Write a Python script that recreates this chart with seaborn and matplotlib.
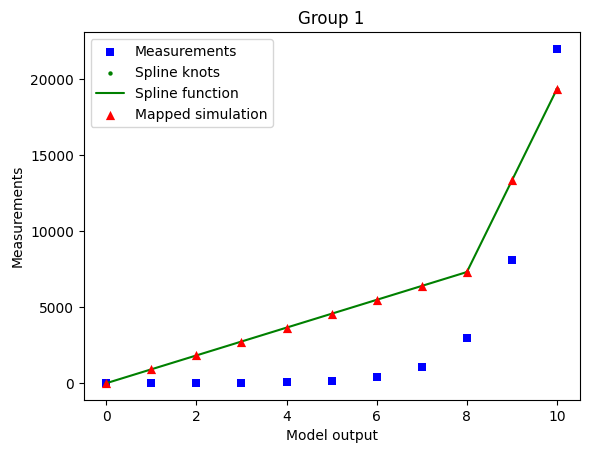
import numpy as np
import pandas as pd
import matplotlib
matplotlib.use("Agg")
import matplotlib.pyplot as plt
import seaborn as sns

sns.set_style("ticks", {"axes.edgecolor": "black", "text.color": "black",
                        "axes.labelcolor": "black", "xtick.color": "black",
                        "ytick.color": "black"})
plt.rcParams['font.family'] = ['DejaVu Sans']

# data
model_output = [0, 1, 2, 3, 4, 5, 6, 7, 8, 9, 10]
measurements = [1, 3, 7, 20, 55, 150, 400, 1100, 3000, 8100, 22000]
mapped_sim = [0, 915, 1830, 2745, 3660, 4575, 5490, 6405, 7320, 13350, 19380]
knots_x = [0, 8, 10]
knots_y = [0, 7320, 19380]

fig, ax = plt.subplots(figsize=(5.89, 4.55), dpi=100)
fig.subplots_adjust(left=0.142, right=0.984, top=0.929, bottom=0.121)

sns.scatterplot(x=model_output, y=measurements, marker="s", color="blue", s=40,
                linewidth=0, label="Measurements", ax=ax, zorder=2)
sns.scatterplot(x=knots_x, y=knots_y, marker=".", color="green", s=40,
                linewidth=0, label="Spline knots", ax=ax, zorder=2)
sns.lineplot(x=knots_x, y=knots_y, color="green", linewidth=1.5,
             label="Spline function", ax=ax, zorder=2)
sns.scatterplot(x=model_output, y=mapped_sim, marker="^", color="red", s=44,
                linewidth=0, label="Mapped simulation", ax=ax, zorder=3)

for s in ax.spines.values():
    s.set_visible(True)
    s.set_linewidth(0.8)
ax.tick_params(direction="out", length=3.5, width=0.8, labelsize=10)
ax.set_xticks([0, 2, 4, 6, 8, 10])
ax.set_yticks([0, 5000, 10000, 15000, 20000])
ax.set_xlabel("Model output")
ax.set_ylabel("Measurements")
ax.set_title("Group 1")
ax.legend(loc="upper left", fancybox=True, framealpha=0.8)

fig.savefig("out.png", dpi=100)
